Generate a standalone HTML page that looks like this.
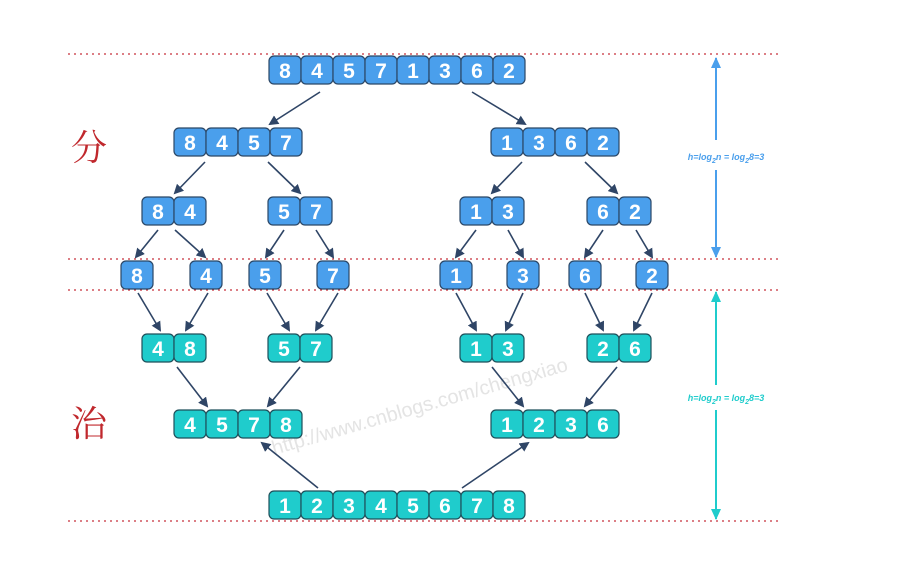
<!DOCTYPE html>
<html><head><meta charset="utf-8"><style>
html,body{margin:0;padding:0;background:#fff;width:898px;height:586px;overflow:hidden}
svg{display:block}
.b rect{fill:#4a9fec;stroke:#2b4766;stroke-width:1.2}
.t rect{fill:#1fcccc;stroke:#1f4f5a;stroke-width:1.2}
.b text,.t text{font-family:"Liberation Sans",Arial,sans-serif;font-weight:700;font-size:21px;fill:#fff;text-anchor:middle}
.a{stroke:#2f4566;stroke-width:1.6;fill:none;marker-end:url(#ah)}
.d{stroke:#c8323c;stroke-width:1.3;stroke-dasharray:2,4}
</style></head><body>
<svg width="898" height="586" viewBox="0 0 898 586">
<defs>
<marker id="ah" markerWidth="10" markerHeight="10" refX="8" refY="5" orient="auto" markerUnits="userSpaceOnUse"><path d="M0,0 L10,5 L0,10 z" fill="#2f4566"/></marker>
<marker id="bh" markerWidth="12" markerHeight="12" refX="10" refY="6" orient="auto" markerUnits="userSpaceOnUse"><path d="M0,1 L11,6 L0,11 z" fill="#4a9fec"/></marker>
<marker id="th" markerWidth="12" markerHeight="12" refX="10" refY="6" orient="auto" markerUnits="userSpaceOnUse"><path d="M0,1 L11,6 L0,11 z" fill="#1fcccc"/></marker>
</defs>
<line class="d" x1="68" y1="54" x2="778" y2="54"/>
<line class="d" x1="68" y1="259" x2="778" y2="259"/>
<line class="d" x1="68" y1="290" x2="778" y2="290"/>
<line class="d" x1="68" y1="521" x2="778" y2="521"/>
<line x1="716" y1="140" x2="716" y2="58" stroke="#4a9fec" stroke-width="2" marker-end="url(#bh)"/>
<line x1="716" y1="170" x2="716" y2="257" stroke="#4a9fec" stroke-width="2" marker-end="url(#bh)"/>
<text x="726" y="160" font-family="Liberation Sans,sans-serif" font-style="italic" font-weight="bold" font-size="9" fill="#4a9fec" text-anchor="middle">h=log<tspan font-size="7" dy="3">2</tspan><tspan dy="-3">n = log</tspan><tspan font-size="7" dy="3">2</tspan><tspan dy="-3">8=3</tspan></text>
<line x1="716" y1="385" x2="716" y2="292" stroke="#1fcccc" stroke-width="2" marker-end="url(#th)"/>
<line x1="716" y1="410" x2="716" y2="519" stroke="#1fcccc" stroke-width="2" marker-end="url(#th)"/>
<text x="726" y="401" font-family="Liberation Sans,sans-serif" font-style="italic" font-weight="bold" font-size="9" fill="#1fcccc" text-anchor="middle">h=log<tspan font-size="7" dy="3">2</tspan><tspan dy="-3">n = log</tspan><tspan font-size="7" dy="3">2</tspan><tspan dy="-3">8=3</tspan></text>
<text x="89" y="160" font-family="Noto Serif CJK SC,serif" font-size="36" fill="#c0282d" text-anchor="middle">分</text>
<text x="89" y="436" font-family="Noto Serif CJK SC,serif" font-size="36" fill="#c0282d" text-anchor="middle">治</text>
<text x="0" y="0" transform="translate(274,455) rotate(-16)" font-family="Liberation Sans,sans-serif" font-size="20" fill="#e4e4e4">http://www.cnblogs.com/chengxiao</text>

<line class="a" x1="320" y1="92" x2="270" y2="124"/>
<line class="a" x1="472" y1="92" x2="525" y2="124"/>
<line class="a" x1="205" y1="162" x2="175" y2="193"/>
<line class="a" x1="268" y1="162" x2="300" y2="193"/>
<line class="a" x1="522" y1="162" x2="492" y2="193"/>
<line class="a" x1="585" y1="162" x2="617" y2="193"/>
<line class="a" x1="158" y1="230" x2="136" y2="257"/>
<line class="a" x1="175" y1="230" x2="205" y2="257"/>
<line class="a" x1="284" y1="230" x2="266" y2="257"/>
<line class="a" x1="316" y1="230" x2="333" y2="257"/>
<line class="a" x1="476" y1="230" x2="456" y2="257"/>
<line class="a" x1="508" y1="230" x2="523" y2="257"/>
<line class="a" x1="603" y1="230" x2="585" y2="257"/>
<line class="a" x1="636" y1="230" x2="652" y2="257"/>
<line class="a" x1="138" y1="293" x2="160" y2="330"/>
<line class="a" x1="208" y1="293" x2="186" y2="330"/>
<line class="a" x1="267" y1="293" x2="289" y2="330"/>
<line class="a" x1="338" y1="293" x2="316" y2="330"/>
<line class="a" x1="456" y1="293" x2="476" y2="330"/>
<line class="a" x1="523" y1="293" x2="506" y2="330"/>
<line class="a" x1="585" y1="293" x2="603" y2="330"/>
<line class="a" x1="652" y1="293" x2="634" y2="330"/>
<line class="a" x1="177" y1="367" x2="207" y2="406"/>
<line class="a" x1="300" y1="367" x2="268" y2="406"/>
<line class="a" x1="492" y1="367" x2="523" y2="406"/>
<line class="a" x1="617" y1="367" x2="585" y2="406"/>
<line class="a" x1="318" y1="488" x2="262" y2="443"/>
<line class="a" x1="462" y1="488" x2="528" y2="443"/>

<g class="b">
<rect x="269" y="56" width="32" height="28" rx="5"/><rect x="301" y="56" width="32" height="28" rx="5"/><rect x="333" y="56" width="32" height="28" rx="5"/><rect x="365" y="56" width="32" height="28" rx="5"/><rect x="397" y="56" width="32" height="28" rx="5"/><rect x="429" y="56" width="32" height="28" rx="5"/><rect x="461" y="56" width="32" height="28" rx="5"/><rect x="493" y="56" width="32" height="28" rx="5"/>
<text x="285" y="78">8</text><text x="317" y="78">4</text><text x="349" y="78">5</text><text x="381" y="78">7</text><text x="413" y="78">1</text><text x="445" y="78">3</text><text x="477" y="78">6</text><text x="509" y="78">2</text>
<rect x="174" y="128" width="32" height="28" rx="5"/><rect x="206" y="128" width="32" height="28" rx="5"/><rect x="238" y="128" width="32" height="28" rx="5"/><rect x="270" y="128" width="32" height="28" rx="5"/>
<text x="190" y="150">8</text><text x="222" y="150">4</text><text x="254" y="150">5</text><text x="286" y="150">7</text>
<rect x="491" y="128" width="32" height="28" rx="5"/><rect x="523" y="128" width="32" height="28" rx="5"/><rect x="555" y="128" width="32" height="28" rx="5"/><rect x="587" y="128" width="32" height="28" rx="5"/>
<text x="507" y="150">1</text><text x="539" y="150">3</text><text x="571" y="150">6</text><text x="603" y="150">2</text>
<rect x="142" y="197" width="32" height="28" rx="5"/><rect x="174" y="197" width="32" height="28" rx="5"/>
<rect x="268" y="197" width="32" height="28" rx="5"/><rect x="300" y="197" width="32" height="28" rx="5"/>
<rect x="460" y="197" width="32" height="28" rx="5"/><rect x="492" y="197" width="32" height="28" rx="5"/>
<rect x="587" y="197" width="32" height="28" rx="5"/><rect x="619" y="197" width="32" height="28" rx="5"/>
<text x="158" y="219">8</text><text x="190" y="219">4</text><text x="284" y="219">5</text><text x="316" y="219">7</text><text x="476" y="219">1</text><text x="508" y="219">3</text><text x="603" y="219">6</text><text x="635" y="219">2</text>
<rect x="121" y="261" width="32" height="28" rx="5"/><rect x="190" y="261" width="32" height="28" rx="5"/><rect x="249" y="261" width="32" height="28" rx="5"/><rect x="317" y="261" width="32" height="28" rx="5"/>
<rect x="440" y="261" width="32" height="28" rx="5"/><rect x="507" y="261" width="32" height="28" rx="5"/><rect x="569" y="261" width="32" height="28" rx="5"/><rect x="636" y="261" width="32" height="28" rx="5"/>
<text x="137" y="283">8</text><text x="206" y="283">4</text><text x="265" y="283">5</text><text x="333" y="283">7</text><text x="456" y="283">1</text><text x="523" y="283">3</text><text x="585" y="283">6</text><text x="652" y="283">2</text>
</g>
<g class="t">
<rect x="142" y="334" width="32" height="28" rx="5"/><rect x="174" y="334" width="32" height="28" rx="5"/>
<rect x="268" y="334" width="32" height="28" rx="5"/><rect x="300" y="334" width="32" height="28" rx="5"/>
<rect x="460" y="334" width="32" height="28" rx="5"/><rect x="492" y="334" width="32" height="28" rx="5"/>
<rect x="587" y="334" width="32" height="28" rx="5"/><rect x="619" y="334" width="32" height="28" rx="5"/>
<text x="158" y="356">4</text><text x="190" y="356">8</text><text x="284" y="356">5</text><text x="316" y="356">7</text><text x="476" y="356">1</text><text x="508" y="356">3</text><text x="603" y="356">2</text><text x="635" y="356">6</text>
<rect x="174" y="410" width="32" height="28" rx="5"/><rect x="206" y="410" width="32" height="28" rx="5"/><rect x="238" y="410" width="32" height="28" rx="5"/><rect x="270" y="410" width="32" height="28" rx="5"/>
<text x="190" y="432">4</text><text x="222" y="432">5</text><text x="254" y="432">7</text><text x="286" y="432">8</text>
<rect x="491" y="410" width="32" height="28" rx="5"/><rect x="523" y="410" width="32" height="28" rx="5"/><rect x="555" y="410" width="32" height="28" rx="5"/><rect x="587" y="410" width="32" height="28" rx="5"/>
<text x="507" y="432">1</text><text x="539" y="432">2</text><text x="571" y="432">3</text><text x="603" y="432">6</text>
<rect x="269" y="491" width="32" height="28" rx="5"/><rect x="301" y="491" width="32" height="28" rx="5"/><rect x="333" y="491" width="32" height="28" rx="5"/><rect x="365" y="491" width="32" height="28" rx="5"/><rect x="397" y="491" width="32" height="28" rx="5"/><rect x="429" y="491" width="32" height="28" rx="5"/><rect x="461" y="491" width="32" height="28" rx="5"/><rect x="493" y="491" width="32" height="28" rx="5"/>
<text x="285" y="513">1</text><text x="317" y="513">2</text><text x="349" y="513">3</text><text x="381" y="513">4</text><text x="413" y="513">5</text><text x="445" y="513">6</text><text x="477" y="513">7</text><text x="509" y="513">8</text>
</g>
</svg>
</body></html>
